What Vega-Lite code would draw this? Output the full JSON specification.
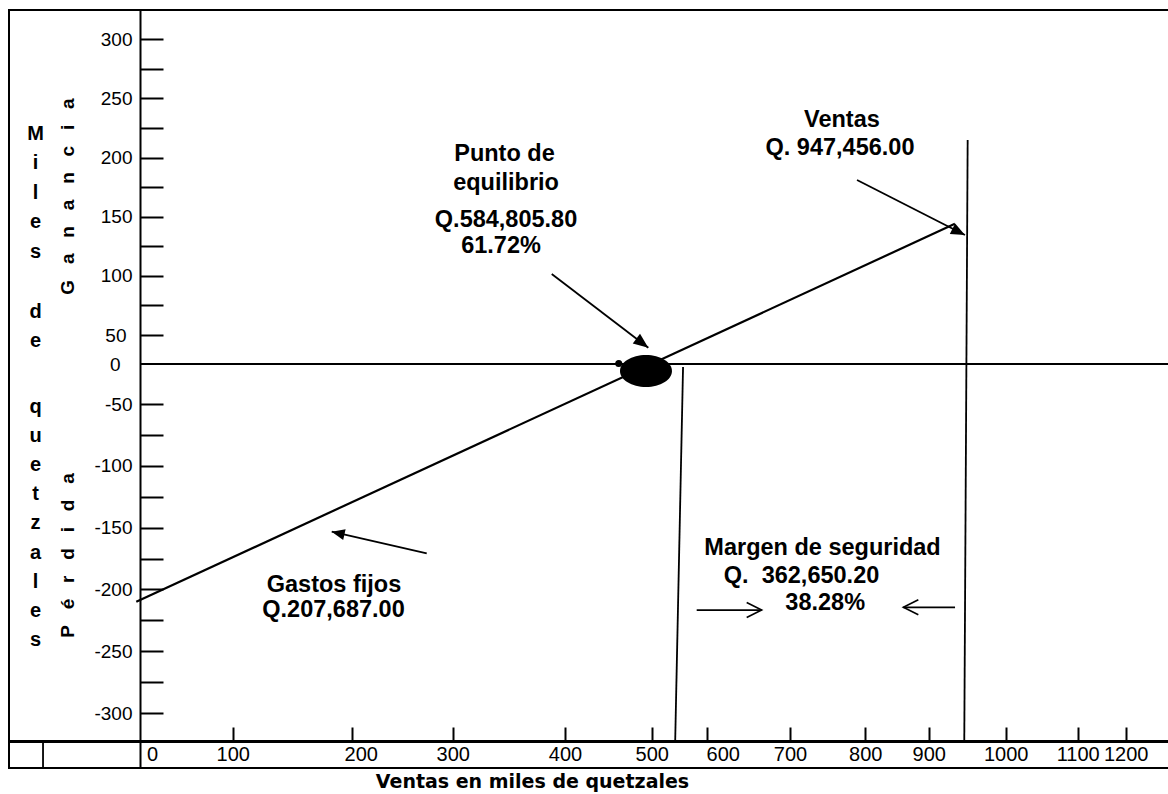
{
  "$schema": "https://vega.github.io/schema/vega-lite/v6.json",
  "width": 1161,
  "height": 758,
  "autosize": "none",
  "padding": {"left": 9, "top": 10, "right": 0, "bottom": 26},
  "background": "white",
  "config": {
    "view": {"stroke": "black", "strokeWidth": 2},
    "axis": {
      "grid": false,
      "labelFont": "Liberation Sans",
      "titleFont": "Liberation Sans",
      "labelColor": "black",
      "titleColor": "black",
      "tickColor": "black",
      "domainColor": "black",
      "labelOverlap": false,
      "labelFlush": false
    }
  },
  "datasets": {
    "line": [{"x": -4, "y": -210}, {"x": 934, "y": 144}],
    "zero": [{"x": 0, "x2": 1292, "y": 0}],
    "segs": [
      {"x": 557, "y": -3.75, "x2": 542.7, "y2": -322.7},
      {"x": 950.6, "y": 214.9, "x2": 946.2, "y2": -322.7},
      {"x": 789, "y": 181, "x2": 947.1, "y2": 134.5},
      {"x": 388.2, "y": 101.6, "x2": 496.1, "y2": 28.1},
      {"x": 274.3, "y": -170.8, "x2": 183.2, "y2": -153.3},
      {"x": 581.8, "y": -216.7, "x2": 666, "y2": -216.7},
      {"x": 934.2, "y": -214.5, "x2": 860, "y2": -214.5},
      {"x": -104.6, "y": -322.7, "x2": -104.6, "y2": -344.5}
    ],
    "labels": [
      {"t": "Punto de", "x": 346.1, "y": 197.4},
      {"t": "equilibrio", "x": 347.5, "y": 172.6},
      {"t": "Q.584,805.80", "x": 347.5, "y": 141.5},
      {"t": "61.72%", "x": 343.0, "y": 119.0},
      {"t": "Ventas", "x": 769, "y": 225.9},
      {"t": "Q. 947,456.00", "x": 766.4, "y": 202.2},
      {"t": "Gastos fijos", "x": 185.1, "y": -202.1},
      {"t": "Q.207,687.00", "x": 184.7, "y": -222.3},
      {"t": "Margen de seguridad", "x": 743.2, "y": -172.2},
      {"t": "Q.\u00a0 362,650.20", "x": 715.3, "y": -195.1},
      {"t": "38.28%", "x": 746.7, "y": -216.7}
    ]
  },
  "layer": [
    {
      "data": {"name": "zero"},
      "mark": {"type": "rule", "color": "black", "strokeWidth": 2},
      "encoding": {
        "x": {"field": "x", "type": "quantitative",
          "scale": {"type": "linear", "domain": [-141.3, 0, 100, 200, 300, 400, 500, 600, 700, 800, 900, 1000, 1100, 1200, 1292.3], "range": [0, 131, 223.7, 342.7, 443.7, 556, 642.7, 697.7, 781, 856.3, 919.7, 996.7, 1068.7, 1116.7, 1161], "nice": false, "zero": false},
          "axis": {"orient": "top", "offset": -731, "values": [100, 200, 300, 400, 500, 600, 700, 800, 900, 1000, 1100, 1200], "ticks": true, "tickSize": 14, "tickWidth": 2, "labels": false, "domain": false, "title": null}},
        "x2": {"field": "x2"},
        "y": {"field": "y", "type": "quantitative",
          "scale": {"type": "linear", "domain": [-344.5, -300, -50, 0, 50, 300, 324.8], "range": [758, 703, 394, 354, 325, 29.3, 0], "nice": false, "zero": false},
          "axis": {"orient": "right", "offset": -1030, "values": [300, 275, 250, 225, 200, 175, 150, 125, 100, 75, 50, -50, -75, -100, -125, -150, -175, -200, -225, -250, -275, -300], "ticks": true, "tickSize": 23, "tickWidth": 2, "labels": false, "domain": false,
            "title": "G\u00a0\u00a0\u00a0a\u00a0\u00a0\u00a0n\u00a0\u00a0\u00a0a\u00a0\u00a0\u00a0n\u00a0\u00a0\u00a0c\u00a0\u00a0\u00a0i\u00a0\u00a0\u00a0a",
            "titleAngle": -90, "titleX": -73, "titleY": 186, "titleAlign": "center", "titleBaseline": "middle", "titleFontSize": 19, "titleFontWeight": "bold"}}
      }
    },
    {
      "data": {"name": "segs"},
      "mark": {"type": "rule", "color": "black", "strokeWidth": 1.8},
      "encoding": {
        "x": {"field": "x", "type": "quantitative",
          "scale": {"type": "linear", "domain": [-141.3, 0, 100, 200, 300, 400, 500, 600, 700, 800, 900, 1000, 1100, 1200, 1292.3], "range": [0, 131, 223.7, 342.7, 443.7, 556, 642.7, 697.7, 781, 856.3, 919.7, 996.7, 1068.7, 1116.7, 1161], "nice": false, "zero": false},
          "axis": {"orient": "bottom", "offset": 0, "labels": false, "ticks": false, "domain": false,
            "title": "Ventas en miles de quetzales", "titleFont": "DejaVu Sans", "titleFontSize": 19, "titleFontWeight": "bold", "titleX": 523, "titleY": 19, "titleAlign": "center", "titleBaseline": "alphabetic"}},
        "x2": {"field": "x2"},
        "y": {"field": "y", "type": "quantitative",
          "scale": {"type": "linear", "domain": [-344.5, -300, -50, 0, 50, 300, 324.8], "range": [758, 703, 394, 354, 325, 29.3, 0], "nice": false, "zero": false},
          "axis": {"orient": "left", "offset": -131, "labels": false, "ticks": false, "domain": false,
            "title": "P\u00a0\u00a0\u00a0é\u00a0\u00a0\u00a0r\u00a0\u00a0\u00a0d\u00a0\u00a0\u00a0i\u00a0\u00a0\u00a0d\u00a0\u00a0\u00a0a",
            "titleAngle": -90, "titleX": -73, "titleY": 545, "titleAlign": "center", "titleBaseline": "middle", "titleFontSize": 19, "titleFontWeight": "bold"}},
        "y2": {"field": "y2"}
      }
    },
    {
      "data": {"name": "line"},
      "mark": {"type": "line", "color": "black", "strokeWidth": 2.2},
      "encoding": {
        "x": {"field": "x", "type": "quantitative",
          "scale": {"type": "linear", "domain": [-141.3, 0, 100, 200, 300, 400, 500, 600, 700, 800, 900, 1000, 1100, 1200, 1292.3], "range": [0, 131, 223.7, 342.7, 443.7, 556, 642.7, 697.7, 781, 856.3, 919.7, 996.7, 1068.7, 1116.7, 1161], "nice": false, "zero": false},
          "axis": {"orient": "bottom", "offset": -27, "values": [0, 100, 200, 300, 400, 500, 600, 700, 800, 900, 1000, 1100, 1200], "ticks": false, "tickSize": 0, "labels": true, "labelFontSize": 20, "labelPadding": 3, "labelExpr": "'' + datum.value",
            "labelOffset": {"condition": [{"test": "datum.value === 0", "value": 12}, {"test": "datum.value === 200", "value": 9}, {"test": "datum.value === 600", "value": 16}], "value": 0},
            "domain": true, "domainWidth": 3, "title": null}},
        "y": {"field": "y", "type": "quantitative",
          "scale": {"type": "linear", "domain": [-344.5, -300, -50, 0, 50, 300, 324.8], "range": [758, 703, 394, 354, 325, 29.3, 0], "nice": false, "zero": false},
          "axis": {"orient": "left", "offset": -131, "values": [300, 250, 200, 150, 100, 50, 0, -50, -100, -150, -200, -250, -300], "ticks": false, "tickSize": 0, "labels": true, "labelFontSize": 19, "labelExpr": "'' + datum.value",
            "labelPadding": {"condition": [{"test": "datum.value === 0", "value": 20}, {"test": "datum.value === 50", "value": 14}], "value": 8},
            "domain": true, "domainWidth": 2,
            "title": ["M", "i", "l", "e", "s"],
            "titleAngle": 0, "titleX": -105, "titleY": 129, "titleAlign": "center", "titleBaseline": "alphabetic", "titleLineHeight": 29.5, "titleFontSize": 20, "titleFontWeight": "bold"}}
      }
    },
    {
      "data": {"values": [{"x": 493.4, "y": -8.75}]},
      "mark": {"type": "point", "shape": "M -1 0 C -1 -0.34 -0.55 -0.615 0 -0.615 C 0.55 -0.615 1 -0.34 1 0 C 1 0.34 0.55 0.615 0 0.615 C -0.55 0.615 -1 0.34 -1 0 Z", "size": 2704, "filled": true, "fill": "black", "stroke": null, "opacity": 1},
      "encoding": {
        "x": {"field": "x", "type": "quantitative", "axis": null},
        "y": {"field": "y", "type": "quantitative",
          "axis": {"orient": "left", "offset": -131, "labels": false, "ticks": false, "domain": false,
            "title": ["d", "e"],
            "titleAngle": 0, "titleX": -105, "titleY": 307, "titleAlign": "center", "titleBaseline": "alphabetic", "titleLineHeight": 29.5, "titleFontSize": 20, "titleFontWeight": "bold"}}
      }
    },
    {
      "data": {"values": [{"x": 462, "y": 1}]},
      "mark": {"type": "point", "shape": "circle", "size": 50, "filled": true, "fill": "black", "stroke": null, "opacity": 1},
      "encoding": {
        "x": {"field": "x", "type": "quantitative", "axis": null},
        "y": {"field": "y", "type": "quantitative",
          "axis": {"orient": "left", "offset": -131, "labels": false, "ticks": false, "domain": false,
            "title": ["q", "u", "e", "t", "z", "a", "l", "e", "s"],
            "titleAngle": 0, "titleX": -105, "titleY": 402, "titleAlign": "center", "titleBaseline": "alphabetic", "titleLineHeight": 29.2, "titleFontSize": 20, "titleFontWeight": "bold"}}
      }
    },
    {
      "data": {"values": [{"x": 947.1, "y": 134.5}]},
      "mark": {"type": "point", "shape": "M 0 0 L -1 -0.42 L -1 0.42 Z", "size": 784, "angle": 27, "filled": true, "fill": "black", "stroke": null, "opacity": 1},
      "encoding": {
        "x": {"field": "x", "type": "quantitative", "axis": null},
        "y": {"field": "y", "type": "quantitative", "axis": null}
      }
    },
    {
      "data": {"values": [{"x": 496.1, "y": 28.1}]},
      "mark": {"type": "point", "shape": "M 0 0 L -1 -0.4 L -1 0.4 Z", "size": 900, "angle": 37.3, "filled": true, "fill": "black", "stroke": null, "opacity": 1},
      "encoding": {
        "x": {"field": "x", "type": "quantitative", "axis": null},
        "y": {"field": "y", "type": "quantitative", "axis": null}
      }
    },
    {
      "data": {"values": [{"x": 183.2, "y": -153.3}]},
      "mark": {"type": "point", "shape": "M 0 0 L -1 -0.42 L -1 0.42 Z", "size": 676, "angle": 192.8, "filled": true, "fill": "black", "stroke": null, "opacity": 1},
      "encoding": {
        "x": {"field": "x", "type": "quantitative", "axis": null},
        "y": {"field": "y", "type": "quantitative", "axis": null}
      }
    },
    {
      "data": {"values": [{"x": 666, "y": -216.7}]},
      "mark": {"type": "point", "shape": "M -1 -0.5 L 0 0 L -1 0.5", "size": 900, "angle": 0, "filled": false, "stroke": "black", "strokeWidth": 1.6, "opacity": 1},
      "encoding": {
        "x": {"field": "x", "type": "quantitative", "axis": null},
        "y": {"field": "y", "type": "quantitative", "axis": null}
      }
    },
    {
      "data": {"values": [{"x": 860, "y": -214.5}]},
      "mark": {"type": "point", "shape": "M -1 -0.5 L 0 0 L -1 0.5", "size": 900, "angle": 180, "filled": false, "stroke": "black", "strokeWidth": 1.6, "opacity": 1},
      "encoding": {
        "x": {"field": "x", "type": "quantitative", "axis": null},
        "y": {"field": "y", "type": "quantitative", "axis": null}
      }
    },
    {
      "data": {"name": "labels"},
      "mark": {"type": "text", "font": "Liberation Sans", "fontWeight": "bold", "fontSize": 23.5, "align": "center", "baseline": "alphabetic", "color": "black"},
      "encoding": {
        "x": {"field": "x", "type": "quantitative", "axis": null},
        "y": {"field": "y", "type": "quantitative", "axis": null},
        "text": {"field": "t"}
      }
    }
  ],
  "resolve": {"axis": {"x": "independent", "y": "independent"}}
}
